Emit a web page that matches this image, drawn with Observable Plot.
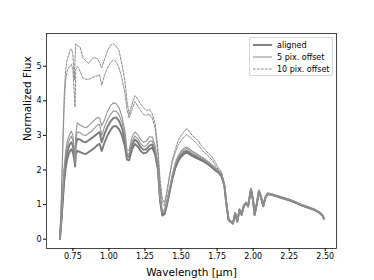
<!DOCTYPE html>
<html><head><meta charset="utf-8">
<script src="https://cdn.jsdelivr.net/npm/d3@7"></script>
<script src="https://cdn.jsdelivr.net/npm/@observablehq/plot@0.6"></script>
<style>
body{margin:0;background:#fff;font-family:"DejaVu Sans",sans-serif;}
#wrap{position:relative;width:374px;height:280px;}
#legend{position:absolute;left:249px;top:37px;width:84px;height:39px;border:1px solid #d6d6d6;border-radius:2px;background:rgba(255,255,255,0.8);font-size:8px;box-sizing:border-box;color:#000}
.item{position:absolute;left:3px;height:10px;display:flex;align-items:center;white-space:nowrap}
.item svg{margin-right:5px}
</style></head><body><div id="wrap"><div id="legend"></div></div>
<script>
const wavelength = [
 0.66,0.67,0.68,0.69,0.70,0.71,0.72,0.73,0.74,0.75,
 0.76,0.765,0.77,0.78,0.80,0.82,0.84,0.86,0.88,0.90,
 0.92,0.935,0.95,0.97,0.99,1.01,1.03,1.05,1.07,1.09,
 1.11,1.125,1.14,1.16,1.18,1.20,1.22,1.24,1.26,1.28,
 1.30,1.32,1.34,1.355,1.37,1.385,1.40,1.42,1.44,1.46,
 1.48,1.50,1.52,1.54,1.56,1.58,1.60,1.62,1.64,1.66,
 1.68,1.70,1.72,1.74,1.76,1.78,1.80,1.815,1.83,1.845,
 1.86,1.875,1.89,1.905,1.92,1.935,1.95,1.965,1.985,2.00,
 2.01,2.025,2.04,2.055,2.07,2.085,2.10,2.14,2.18,2.22,
 2.26,2.30,2.34,2.38,2.42,2.46,2.48,2.49];

const aligned1 = [
 0,0.5,1.1,1.7,2.05,2.3,2.45,2.55,2.6,2.5,
 2.3,2.1,2.45,2.55,2.52,2.48,2.46,2.52,2.58,2.64,
 2.72,2.76,2.55,2.8,3.0,3.15,3.26,3.27,3.18,3.0,
 2.7,2.3,2.28,2.6,2.75,2.68,2.55,2.48,2.5,2.6,
 2.65,2.45,2.0,1.1,0.68,0.72,0.95,1.35,1.75,2.05,
 2.25,2.38,2.46,2.5,2.45,2.4,2.36,2.32,2.28,2.24,
 2.18,2.12,2.05,1.98,1.92,1.82,1.55,1.0,0.55,0.5,
 0.45,0.75,0.5,0.85,0.7,0.95,1.05,0.95,1.45,1.1,
 0.7,1.0,1.4,1.2,0.95,1.2,1.3,1.27,1.22,1.17,
 1.12,1.05,0.98,0.92,0.86,0.76,0.68,0.6];
const aligned2 = [
 0,0.55,1.2,1.85,2.25,2.5,2.65,2.75,2.8,2.7,
 2.4,2.15,2.7,2.9,2.88,2.82,2.8,2.86,2.92,2.98,
 3.05,3.1,2.8,3.05,3.25,3.4,3.5,3.52,3.42,3.22,
 2.88,2.4,2.38,2.72,2.88,2.8,2.66,2.58,2.6,2.7,
 2.74,2.52,2.05,1.15,0.72,0.76,0.98,1.38,1.78,2.1,
 2.3,2.43,2.52,2.55,2.5,2.44,2.4,2.35,2.3,2.26,
 2.2,2.14,2.07,2.0,1.93,1.84,1.57,1.0,0.56,0.5,
 0.46,0.74,0.52,0.84,0.72,0.96,1.04,0.96,1.44,1.12,
 0.71,1.02,1.39,1.21,0.96,1.21,1.31,1.28,1.21,1.16,
 1.11,1.04,0.97,0.91,0.85,0.77,0.69,0.61];
const offset5a = [
 0,0.6,1.3,2.0,2.4,2.65,2.8,2.92,2.98,2.85,
 2.5,2.2,2.85,3.1,3.08,3.02,3.0,3.06,3.12,3.2,
 3.3,3.32,3.0,3.25,3.45,3.6,3.7,3.7,3.6,3.38,
 3.02,2.48,2.46,2.82,2.98,2.9,2.76,2.68,2.7,2.82,
 2.84,2.6,2.1,1.2,0.76,0.8,1.02,1.42,1.82,2.15,
 2.36,2.5,2.58,2.62,2.56,2.5,2.45,2.4,2.35,2.3,
 2.24,2.17,2.1,2.03,1.96,1.87,1.6,1.02,0.57,0.52,
 0.47,0.76,0.51,0.86,0.71,0.97,1.06,0.94,1.46,1.11,
 0.72,1.01,1.41,1.19,0.97,1.19,1.32,1.26,1.23,1.18,
 1.13,1.06,0.99,0.93,0.87,0.78,0.7,0.6];
const offset5b = [
 0,0.65,1.4,2.1,2.55,2.8,2.95,3.05,3.12,3.0,
 2.6,2.3,3.0,3.36,3.3,3.25,3.22,3.28,3.36,3.44,
 3.52,3.5,3.28,3.45,3.7,3.85,3.94,3.92,3.8,3.55,
 3.15,2.58,2.56,2.95,3.1,3.02,2.88,2.8,2.84,2.96,
 2.95,2.7,2.18,1.25,0.8,0.85,1.08,1.48,1.88,2.2,
 2.42,2.55,2.63,2.66,2.6,2.54,2.49,2.44,2.38,2.33,
 2.27,2.2,2.13,2.06,1.99,1.9,1.62,1.03,0.58,0.53,
 0.48,0.77,0.53,0.87,0.73,0.98,1.07,0.97,1.47,1.13,
 0.73,1.03,1.42,1.22,0.98,1.22,1.33,1.29,1.24,1.19,
 1.14,1.07,1.0,0.94,0.88,0.79,0.71,0.62];
const offset10a = [
 0.15,1.2,2.8,4.2,4.9,5.2,5.3,5.45,5.5,5.35,
 4.6,5.2,5.65,5.6,5.55,5.25,5.15,5.08,5.2,5.25,
 5.22,5.1,4.95,5.2,5.45,5.6,5.65,5.58,5.45,5.05,
 4.6,4.0,3.6,3.9,4.15,4.05,3.9,3.8,3.72,3.75,
 3.62,3.35,2.6,1.7,1.15,1.05,1.35,1.85,2.3,2.6,
 2.85,3.0,3.1,3.2,3.1,2.98,2.92,2.85,2.7,2.62,
 2.52,2.45,2.35,2.2,2.05,1.95,1.6,1.05,0.6,0.52,
 0.44,0.78,0.48,0.88,0.69,0.99,1.03,0.93,1.43,1.09,
 0.69,1.04,1.38,1.22,0.93,1.23,1.34,1.3,1.24,1.2,
 1.14,1.08,0.96,0.94,0.84,0.79,0.67,0.58];
const offset10b = [
 0.1,1.1,2.6,3.9,4.6,4.85,4.95,5.0,5.05,4.9,
 4.2,3.82,4.9,5.0,4.85,4.65,4.62,4.62,4.66,4.7,
 4.72,4.75,4.45,4.75,4.95,5.1,5.18,5.12,4.95,4.65,
 4.25,3.75,3.5,3.75,3.98,3.85,3.72,3.6,3.58,3.62,
 3.5,3.22,2.45,1.6,1.05,0.95,1.28,1.8,2.25,2.5,
 2.72,2.85,2.95,3.02,2.95,2.88,2.8,2.72,2.6,2.52,
 2.44,2.36,2.26,2.12,2.0,1.9,1.55,1.02,0.58,0.5,
 0.43,0.73,0.49,0.83,0.74,0.94,1.08,0.92,1.44,1.08,
 0.68,1.02,1.37,1.18,0.94,1.18,1.33,1.25,1.25,1.15,
 1.1,1.07,0.95,0.9,0.87,0.74,0.7,0.57];

const seriesNames = ["aligned", "5 pix. offset", "10 pix. offset"];
const xTicks = [0.75,1.00,1.25,1.50,1.75,2.00,2.25,2.50];
const yTicks = [0,1,2,3,4,5];

const styles = {
  "aligned": {stroke:"#7a7a7a", strokeWidth:1.9, strokeDasharray:null},
  "5 pix. offset": {stroke:"#959595", strokeWidth:1.1, strokeDasharray:null},
  "10 pix. offset": {stroke:"#8c8c8c", strokeWidth:1, strokeDasharray:"2.6,1.4"}
};
const lines = [
  {name:"aligned", values:aligned1},
  {name:"aligned", values:aligned2},
  {name:"5 pix. offset", values:offset5a},
  {name:"5 pix. offset", values:offset5b},
  {name:"10 pix. offset", values:offset10a},
  {name:"10 pix. offset", values:offset10b}
];

const lineMarks = lines.map(l => {
  const rows = wavelength.map((w, i) => ({w, v: l.values[i]}));
  const s = styles[l.name];
  const o = {x:"w", y:"v", stroke:s.stroke, strokeWidth:s.strokeWidth, strokeLinejoin:"round"};
  if (s.strokeDasharray) o.strokeDasharray = s.strokeDasharray;
  return Plot.line(rows, o);
});

const chart = Plot.plot({
  width:374, height:280,
  marginLeft:46, marginRight:38, marginTop:33, marginBottom:32,
  style:{fontFamily:"DejaVu Sans", fontSize:"8px", background:"white", color:"#000", overflow:"visible"},
  x:{domain:[0.567,2.578]},
  y:{domain:[-0.27,5.945]},
  marks:[
    ...lineMarks,
    Plot.frame({stroke:"#1a1a1a", strokeWidth:0.8}),
    Plot.axisX({ticks:xTicks, tickFormat:d=>d.toFixed(2), tickSize:3, tickPadding:2, label:null, fontSize:8}),
    Plot.axisY({ticks:yTicks, tickFormat:d=>String(d), tickSize:3, tickPadding:2, label:null, fontSize:8}),
    Plot.text(["Wavelength [μm]"], {frameAnchor:"bottom", dy:20, lineAnchor:"top", fontSize:10.5}),
    Plot.text(["Normalized Flux"], {frameAnchor:"left", dx:-19, rotate:-90, fontSize:10.5})
  ]
});
document.getElementById("wrap").prepend(chart);

const legend = document.getElementById("legend");
seriesNames.forEach((name, i) => {
  const s = styles[name];
  const item = document.createElement("div");
  item.className = "item";
  item.style.top = (2 + i*12) + "px";
  item.innerHTML = `<svg width="19" height="6"><line x1="0" x2="19" y1="3" y2="3" stroke="${s.stroke}" stroke-width="${s.strokeWidth}" ${s.strokeDasharray ? `stroke-dasharray="${s.strokeDasharray}"` : ""}/></svg><span>${name}</span>`;
  legend.appendChild(item);
});
</script>
</body></html>
